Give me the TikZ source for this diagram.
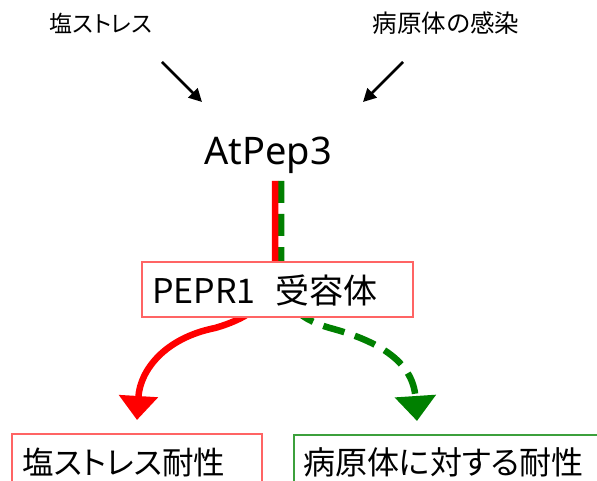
\documentclass[tikz,border=0pt]{standalone}
\usepackage{fontspec}
\setmainfont{Noto Sans CJK JP}[RawFeature=+palt]
\newfontfamily\latinfont{Noto Sans}
\usetikzlibrary{arrows.meta}
\definecolor{boxred}{RGB}{255,100,100}
\definecolor{boxgreen}{RGB}{60,160,60}
\definecolor{arrred}{RGB}{255,0,0}
\definecolor{arrgreen}{RGB}{0,128,0}
\begin{document}
\begin{tikzpicture}[x=1pt,y=-1pt,
  lbl/.style={inner sep=0pt, anchor=center},
  blackarrow/.style={line width=2.6pt, -{Triangle[width=13pt,length=13pt]}},
  redpath/.style={draw=arrred, line width=6.5pt, -{Triangle[width=38pt,length=24pt]}},
  greenpath/.style={draw=arrgreen, line width=6.5pt, dash pattern=on 22pt off 11pt, -{Triangle[width=40pt,length=25pt]}},
  redbox/.style={draw=boxred, line width=1.5pt, fill=white, inner sep=0pt},
  greenbox/.style={draw=boxgreen, line width=1.5pt, fill=white, inner sep=0pt}]
\useasboundingbox (0,0) rectangle (597,481);
% top labels
\node[lbl, font=\fontsize{23pt}{26pt}\selectfont] (salt) at (101,23) {塩ストレス};
\node[lbl, font=\fontsize{24.5pt}{27pt}\selectfont] (path) at (446,23) {病原体の感染};
% top arrows
\coordinate (a1s) at (162,62);
\coordinate (a1e) at (202,102);
\coordinate (a2s) at (403,62);
\coordinate (a2e) at (363,102);
\draw[blackarrow] (a1s) -- (a1e);
\draw[blackarrow] (a2s) -- (a2e);
% AtPep3
\node[lbl, font=\latinfont\fontsize{38pt}{41pt}\selectfont] (pep) at (268,155) {AtPep3};
% connectors
\coordinate (rs) at (275,181);
\coordinate (gs) at (281,181);
\coordinate (rt) at (137,420);
\coordinate (gt) at (417,421);
\draw[greenpath] (gs) -- (281,270) .. controls (281,300) and (295,318) .. (330,328) .. controls (375,340) and (413,360) .. (gt);
\draw[redpath] (rs) -- (275,270) .. controls (275,300) and (250,318) .. (215,328) .. controls (165,338) and (140,370) .. (rt);
% receptor box
\node[redbox, minimum width=271pt, minimum height=55pt] (rec) at (277.5,289.5) {};
\node[lbl, font=\fontsize{34pt}{37pt}\selectfont, anchor=west] (rectext) at (152,291) {PEPR1\hspace{20pt}受容体};
% bottom boxes
\node[redbox, minimum width=250pt, minimum height=80pt, anchor=north west] (res1) at (11,433) {};
\node[lbl, font=\fontsize{31.5pt}{34pt}\selectfont, anchor=west] (res1t) at (22,462) {塩ストレス耐性};
\node[greenbox, minimum width=330pt, minimum height=80pt, anchor=north west] (res2) at (293,434) {};
\node[lbl, font=\fontsize{32pt}{35pt}\selectfont, anchor=west] (res2t) at (303,462) {病原体に対する耐性};
\end{tikzpicture}
\end{document}
